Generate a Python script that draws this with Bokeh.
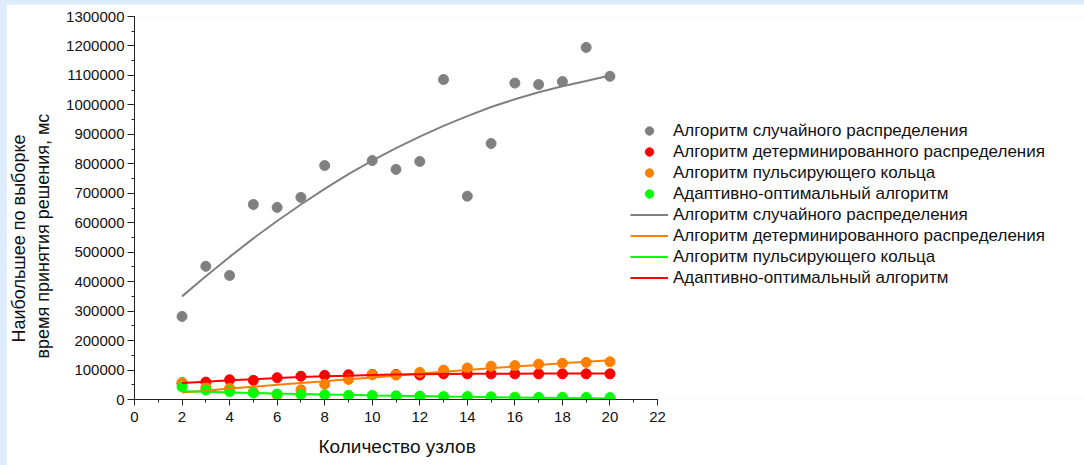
from bokeh.plotting import figure
from bokeh.models import (Range1d, SingleIntervalTicker, BasicTickFormatter, Legend, LegendItem,
                          Title)
from bokeh.layouts import column
from bokeh.embed import file_html
from bokeh.resources import INLINE

# ---- data ----
nodes = list(range(2, 21))
nodes_random = [2, 3, 4, 5, 6, 7, 8, 10, 11, 12, 13, 14, 15, 16, 17, 18, 19, 20]
random_pts = [282000, 452000, 421000, 662000, 652000, 686000, 794000, 811000, 781000, 808000,
              1086000, 690000, 869000, 1074000, 1069000, 1079000, 1195000, 1097000]
determ_pts = [55000, 59000, 67000, 65000, 74000, 79000, 82000, 84000, 85000, 85000, 83000,
              87000, 87000, 87000, 87000, 87000, 87000, 87000, 87000]
ring_pts = [58000, 42000, 38000, 26000, 15000, 33000, 52000, 68000, 84000, 83000, 92000,
            100000, 107000, 113000, 115000, 120000, 123000, 126000, 128000]
adapt_pts = [43000, 32000, 27000, 22000, 19000, 17000, 16000, 14500, 14000, 12500, 11500,
             10000, 10000, 9000, 8000, 7000, 7500, 7000, 6500]

random_fit = [350000, 418000, 484000, 547000, 606000, 662000, 715000, 765000, 811000, 853000,
              892000, 929000, 962000, 993000, 1019000, 1043000, 1063000, 1081000, 1100000]
orange_fit = [24000, 30000, 37000, 43000, 50000, 56000, 62000, 69000, 75000, 81000, 88000,
              94000, 100000, 106000, 112000, 117000, 123000, 128000, 133000]
green_fit = [28000, 26000, 24000, 22000, 20000, 19000, 17000, 16000, 14000, 13000, 12000,
             10000, 9000, 8000, 7000, 6000, 5000, 4000, 3000]
red_fit = [56000, 60000, 65000, 69000, 73000, 76000, 79000, 81000, 83000, 84500, 85500,
           86500, 87000, 87500, 87500, 88000, 88000, 88000, 88000]

names = ["Алгоритм случайного распределения",
         "Алгоритм детерминированного распределения",
         "Алгоритм пульсирующего кольца",
         "Адаптивно-оптимальный алгоритм"]

y_label_lines = ["Наибольшее по выборке", "время принятия решения, мс"]
x_label = "Количество узлов"

x_axis_max = 22
y_axis_max = 1300000

FONT = "Liberation Sans"

# the axis occupies 523 px of a wider frame so the legend can sit to its right
AXIS_PX = 523
FRAME_W = 950
p = figure(frame_width=FRAME_W, frame_height=383,
           min_border_left=128, min_border_right=0, min_border_top=12, min_border_bottom=66,
           x_range=Range1d(0, x_axis_max * FRAME_W / AXIS_PX), y_range=Range1d(0, y_axis_max),
           output_backend="svg", toolbar_location=None,
           background_fill_color="white", border_fill_color="white")
p.outline_line_color = None
p.xgrid.visible = False
p.ygrid.visible = False

p.xaxis.ticker = SingleIntervalTicker(interval=2, num_minor_ticks=2)
p.yaxis.ticker = SingleIntervalTicker(interval=100000, num_minor_ticks=2)
p.yaxis.formatter = BasicTickFormatter(use_scientific=False)
p.xaxis.bounds = (0, x_axis_max)

for ax in (p.xaxis[0], p.yaxis[0]):
    ax.axis_line_color = "#222222"
    ax.major_tick_line_color = "#222222"
    ax.minor_tick_line_color = "#222222"
    ax.major_tick_in = 0
    ax.minor_tick_in = 0
    ax.major_label_text_font = FONT
    ax.major_label_text_font_size = "15px"
    ax.major_label_text_color = "#111111"

p.yaxis.major_tick_out = 7
p.yaxis.minor_tick_out = 3
p.yaxis.major_label_standoff = 3
p.xaxis.major_tick_out = 6
p.xaxis.minor_tick_out = 3
p.xaxis.major_label_standoff = 6

# y-axis title: two lines, as two titles in the left panel
ytitle2 = Title(text=y_label_lines[1], align="left", offset=41, vertical_align="middle",
                text_font=FONT, text_font_size="18px", text_font_style="normal",
                text_color="#111111", standoff=19)
ytitle1 = Title(text=y_label_lines[0], align="left", offset=57, vertical_align="bottom",
                text_font=FONT, text_font_size="18px", text_font_style="normal",
                text_color="#111111", standoff=-12)
p.add_layout(ytitle2, "left")
p.add_layout(ytitle1, "left")

xlabel = Title(text=x_label, align="left", offset=184,
               text_font=FONT, text_font_size="19px", text_font_style="normal",
               text_color="#111111", standoff=18)
p.add_layout(xlabel, "below")

s_random = p.scatter(nodes_random, random_pts, size=10, color="#808080")
s_determ = p.scatter(nodes, determ_pts, size=10, color="#ff0000")
s_ring = p.scatter(nodes, ring_pts, size=10, color="#ff8000")
s_adapt = p.scatter(nodes, adapt_pts, size=10, color="#00ff00")

l_gray = p.line(nodes, random_fit, line_width=2, color="#808080")
l_orange = p.line(nodes, orange_fit, line_width=2, color="#ff8000")
l_green = p.line(nodes, green_fit, line_width=2, color="#00ff00")
l_red = p.line(nodes, red_fit, line_width=2, color="#ff0000")

items = [
    LegendItem(label=names[0], renderers=[s_random]),
    LegendItem(label=names[1], renderers=[s_determ]),
    LegendItem(label=names[2], renderers=[s_ring]),
    LegendItem(label=names[3], renderers=[s_adapt]),
    LegendItem(label=names[0], renderers=[l_gray]),
    LegendItem(label=names[1], renderers=[l_orange]),
    LegendItem(label=names[2], renderers=[l_green]),
    LegendItem(label=names[3], renderers=[l_red]),
]
legend = Legend(items=items, location=(496, 111), margin=0, padding=0, spacing=0,
                glyph_width=38, glyph_height=21, label_height=21, label_standoff=5,
                label_text_font=FONT, label_text_font_size="17px", label_text_color="#111111",
                border_line_color=None, background_fill_alpha=0)
p.add_layout(legend, "center")

layout = column(p, styles={"background-color": "#dcecfc", "padding": "4px 0px 0px 6px"})

open("out.html", "w").write(file_html(layout, INLINE))
